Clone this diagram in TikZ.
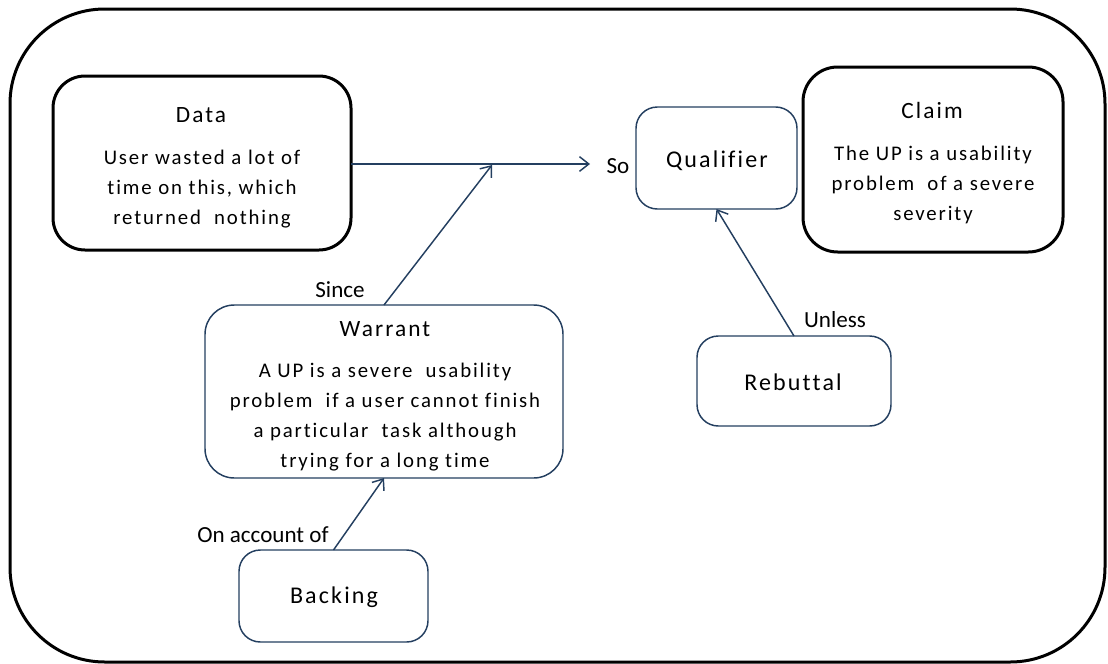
\documentclass[tikz,border=0pt]{standalone}
\usepackage{fontspec}
\setmainfont{Carlito}[Ligatures=CommonOff]
\newfontfamily\spaced[LetterSpace=9,Ligatures=CommonOff]{Carlito}
\usetikzlibrary{arrows.meta}
\definecolor{navy}{HTML}{243F60}
\tikzset{
  thickbox/.style={draw=black, line width=2.25pt, rounded corners=24pt, inner sep=0pt, outer sep=0pt},
  thinbox/.style={draw=navy, line width=1.1pt, rounded corners=16pt, inner sep=0pt, outer sep=0pt},
  titletext/.style={font=\spaced\fontsize{17.5}{20}\selectfont, inner sep=0pt},
  bodytext/.style={font=\spaced\fontsize{15.6}{22.5}\selectfont, align=center, inner sep=0pt},
  wordtext/.style={font=\spaced\fontsize{18}{20}\selectfont, inner sep=0pt},
  labeltext/.style={font=\fontsize{17.3}{20}\selectfont, inner sep=0pt},
  conn/.style={draw=navy, line width=1.1pt, -{Straight Barb[length=7pt,width=11pt,line width=1.1pt]}}
}
\begin{document}
\begin{tikzpicture}[x=0.75pt,y=-0.75pt]
\useasboundingbox (0,0) rectangle (1108,664);
\draw[line width=2.25pt, rounded corners=71pt] (10,9) rectangle (1105,662);

% boxes
\node[thickbox, minimum width=223.5pt, minimum height=130.5pt] (data) at (202,163) {};
\node[thickbox, rounded corners=26pt, minimum width=195pt, minimum height=138.75pt] (claim) at (933,159.5) {};
\node[thinbox, minimum width=120.75pt, minimum height=76.5pt] (qual) at (716.5,158) {};
\node[thinbox, rounded corners=22pt, minimum width=268.5pt, minimum height=129.75pt] (warrant) at (384,391.5) {};
\node[thinbox, minimum width=145.5pt, minimum height=67.5pt] (rebut) at (794,381) {};
\node[thinbox, minimum width=141.75pt, minimum height=69pt] (backing) at (333.5,596) {};

% texts
\node[titletext] (datat) at (201,115) {Data};
\node[bodytext] (datab) at (202,189) {User wasted a lot of\\time on this, which\\returned\ \ nothing};
\node[titletext] (claimt) at (932,110) {Claim};
\node[bodytext] (claimb) at (933,185) {The UP is a usability\\problem\ \ of a severe\\severity};
\node[titletext] (warrantt) at (385,329) {Warrant};
\node[bodytext] (warrantb) at (385,417) {A UP is a severe\ \ usability\\problem\ \ if a user cannot finish\\a particular\ \ task although\\trying for a long time};
\node[wordtext] (qualt) at (717,161) {Qualifier};
\node[wordtext] (rebutt) at (793,382) {Rebuttal};
\node[wordtext] (backingt) at (334,597) {Backing};

% labels
\node[labeltext] (so) at (618,166) {So};
\node[labeltext] (since) at (340,290) {Since};
\node[labeltext] (unless) at (835,320) {Unless};
\node[labeltext] (onacc) at (263,535) {On account of};

% connectors
\coordinate (sotip) at (590,164);
\coordinate (join) at (492,165);
\draw[conn] (data.east |- sotip) -- (sotip);
\draw[conn] (warrant.north) -- (join);
\draw[conn] (rebut.north) -- (qual.south);
\draw[conn] (backing.north) -- (warrant.south);
\end{tikzpicture}
\end{document}
